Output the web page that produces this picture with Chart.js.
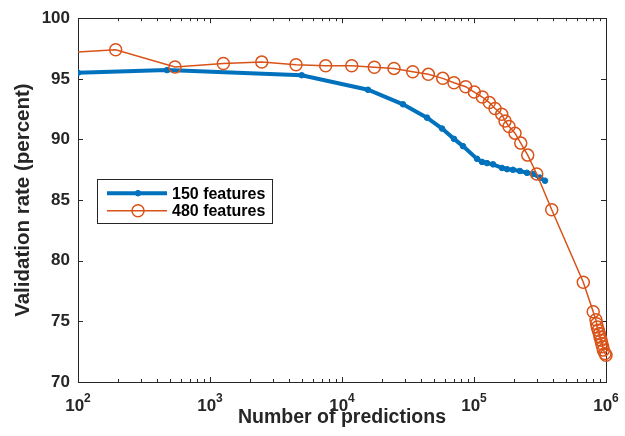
<!DOCTYPE html>
<html>
<head>
<meta charset="utf-8">
<script src="https://cdn.jsdelivr.net/npm/chart.js@4/dist/chart.umd.min.js"></script>
<style>
  html, body { margin: 0; padding: 0; background: #fff; }
  canvas { display: block; }
</style>
</head>
<body>
<canvas id="rateChart" width="625" height="436"></canvas>
<script>
// Data
const predictions150 = [100, 472, 4950, 15740, 28970, 44060, 57300, 70500, 82500, 105500, 115000, 125400, 139300, 163000, 178000, 197300, 222800, 252100, 280000, 316200, 345000];
const rate150 = [95.5, 95.72, 95.3, 94.1, 92.9, 91.8, 90.9, 90.05, 89.45, 88.4, 88.15, 88.05, 87.95, 87.65, 87.55, 87.5, 87.4, 87.25, 87.15, 86.85, 86.6];

const predictions480 = [70, 193, 543, 1262, 2466, 4486, 7520, 11850, 17580, 24770, 34340, 45100, 57960, 70500, 86500, 100500, 115600, 130600, 144300, 162200, 171900, 184200, 204500, 226000, 255300, 298700, 388000, 673000, 800000, 839000, 849000, 859000, 874000, 890000, 901000, 917000, 928000, 944000, 955000, 983000, 1000000];
const rate480 = [97.1, 97.4, 95.97, 96.27, 96.38, 96.16, 96.08, 96.08, 95.95, 95.86, 95.59, 95.37, 95.04, 94.68, 94.35, 93.91, 93.5, 93.04, 92.55, 92.08, 91.53, 91.07, 90.52, 89.7, 88.71, 87.15, 84.2, 78.23, 75.8, 75.14, 74.81, 74.54, 74.27, 73.99, 73.72, 73.45, 73.17, 72.9, 72.63, 72.35, 72.2];

const seriesLabels = ['150 features', '480 features'];
const xTickValues = [1e2, 1e3, 1e4, 1e5, 1e6];
const xTickExponents = ['2', '3', '4', '5', '6'];
const yTickValues = [70, 75, 80, 85, 90, 95, 100];

const axisColor = '#262626';
const fontFamily = '"Liberation Sans", Arial, Helvetica, sans-serif';

const toPoints = (xs, ys) => xs.map((x, i) => ({ x: x, y: ys[i] }));

// box, inward ticks, x labels with exponents
const matlabAxes = {
    id: 'matlabAxes',
    beforeDatasetsDraw(chart) {
        const { ctx, chartArea: a, scales: { x, y } } = chart;
        ctx.save();
        ctx.strokeStyle = axisColor;
        ctx.lineWidth = 1;
        ctx.strokeRect(Math.round(a.left) + 0.5, Math.round(a.top) + 0.5, Math.round(a.right - a.left), Math.round(a.bottom - a.top));
        ctx.beginPath();
        yTickValues.forEach(v => {
            const py = Math.round(y.getPixelForValue(v)) + 0.5;
            ctx.moveTo(a.left, py); ctx.lineTo(a.left + 5, py);
            ctx.moveTo(a.right, py); ctx.lineTo(a.right - 5, py);
        });
        xTickValues.forEach((v, i) => {
            const px = Math.round(x.getPixelForValue(v)) + 0.5;
            ctx.moveTo(px, a.bottom); ctx.lineTo(px, a.bottom - 5);
            ctx.moveTo(px, a.top); ctx.lineTo(px, a.top + 5);
            if (i < xTickValues.length - 1) {
                for (let m = 2; m <= 9; m++) {
                    const mx = Math.round(x.getPixelForValue(v * m)) + 0.5;
                    ctx.moveTo(mx, a.bottom); ctx.lineTo(mx, a.bottom - 3);
                    ctx.moveTo(mx, a.top); ctx.lineTo(mx, a.top + 3);
                }
            }
        });
        ctx.stroke();
        ctx.restore();
    },
    afterDraw(chart) {
        const { ctx, chartArea: a, scales: { x } } = chart;
        ctx.save();
        ctx.fillStyle = axisColor;
        ctx.textBaseline = 'alphabetic';
        ctx.textAlign = 'left';
        xTickValues.forEach((v, i) => {
            const px = x.getPixelForValue(v);
            ctx.font = 'bold 17px ' + fontFamily;
            const w1 = ctx.measureText('10').width;
            ctx.font = 'bold 12px ' + fontFamily;
            const w2 = ctx.measureText(xTickExponents[i]).width;
            const start = px - (w1 + w2) / 2;
            ctx.font = 'bold 17px ' + fontFamily;
            ctx.fillText('10', start, a.bottom + 29);
            ctx.font = 'bold 12px ' + fontFamily;
            ctx.fillText(xTickExponents[i], start + w1, a.bottom + 20);
        });
        ctx.restore();
    }
};

// legend box inside the axes
const boxLegend = {
    id: 'boxLegend',
    afterDraw(chart) {
        const { ctx, chartArea: a } = chart;
        const left = a.left + 19, top = a.top + 161, w = 175, h = 44;
        ctx.save();
        ctx.fillStyle = '#fff';
        ctx.fillRect(left, top, w, h);
        ctx.strokeStyle = axisColor;
        ctx.lineWidth = 1;
        ctx.strokeRect(Math.round(left) + 0.5, Math.round(top) + 0.5, w, h);
        chart.data.datasets.forEach((ds, i) => {
            const cy = top + 14 + i * 17.5;
            ctx.strokeStyle = ds.borderColor;
            ctx.lineWidth = ds.borderWidth;
            ctx.beginPath();
            ctx.moveTo(left + 10, cy); ctx.lineTo(left + 70, cy);
            ctx.stroke();
            ctx.beginPath();
            ctx.arc(left + 41, cy, ds.pointRadius, 0, Math.PI * 2);
            ctx.lineWidth = ds.pointBorderWidth;
            ctx.strokeStyle = ds.pointBorderColor;
            ctx.fillStyle = ds.pointBackgroundColor;
            ctx.fill();
            ctx.stroke();
            ctx.fillStyle = '#000';
            ctx.font = 'bold 16px ' + fontFamily;
            ctx.textBaseline = 'middle';
            ctx.textAlign = 'left';
            ctx.fillText(ds.label, left + 75, cy + 1);
        });
        ctx.restore();
    }
};

const ctx = document.getElementById('rateChart').getContext('2d');
new Chart(ctx, {
    type: 'line',
    data: {
        datasets: [{
            label: seriesLabels[0],
            data: toPoints(predictions150, rate150),
            borderColor: '#0072BD',
            borderWidth: 4,
            pointRadius: 2.8,
            pointBorderWidth: 1,
            pointBorderColor: '#0072BD',
            pointBackgroundColor: '#0072BD',
            tension: 0,
            order: 2,
            clip: { left: 0, top: 10, right: 10, bottom: 10 }
        }, {
            label: seriesLabels[1],
            data: toPoints(predictions480, rate480),
            borderColor: '#D95319',
            borderWidth: 1.5,
            pointRadius: 6,
            pointBorderWidth: 1.5,
            pointBorderColor: '#D95319',
            pointBackgroundColor: 'rgba(0,0,0,0)',
            tension: 0,
            order: 1,
            clip: { left: 0, top: 10, right: 10, bottom: 10 }
        }]
    },
    options: {
        responsive: false,
        animation: false,
        devicePixelRatio: 1,
        layout: { padding: { top: 17, right: 19, left: 0, bottom: 0 } },
        plugins: { legend: { display: false }, tooltip: { enabled: false } },
        scales: {
            x: {
                type: 'logarithmic',
                min: 1e2,
                max: 1e6,
                grid: { display: false, drawTicks: false },
                border: { display: false },
                ticks: { display: false },
                title: {
                    display: true,
                    text: 'Number of predictions',
                    color: axisColor,
                    font: { family: fontFamily, size: 19.5, weight: 'bold' },
                    padding: { top: 0, bottom: 7 }
                },
                afterFit: s => { s.height = 54; }
            },
            y: {
                min: 70,
                max: 100,
                grid: { display: false, drawTicks: false },
                border: { display: false },
                ticks: {
                    stepSize: 5,
                    padding: 8,
                    color: axisColor,
                    font: { family: fontFamily, size: 17, weight: 'bold' }
                },
                title: {
                    display: true,
                    text: 'Validation rate (percent)',
                    color: axisColor,
                    font: { family: fontFamily, size: 20.5, weight: 'bold' },
                    padding: { top: 11, bottom: 0 }
                },
                afterFit: s => { s.width = 78; }
            }
        }
    },
    plugins: [matlabAxes, boxLegend]
});
</script>
</body>
</html>
